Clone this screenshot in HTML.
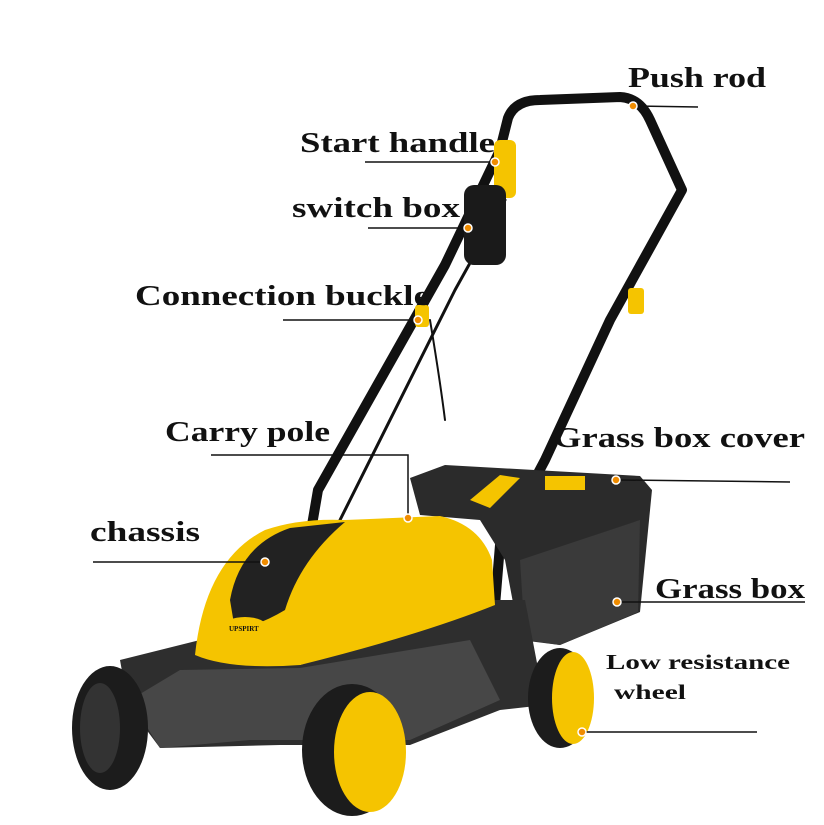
<!DOCTYPE html>
<html><head><meta charset="utf-8"><style>
html,body{margin:0;padding:0;background:#fff;}
svg{display:block;}
text{font-family:"Liberation Serif",serif;font-weight:bold;fill:#111;}
</style></head><body>
<svg width="824" height="825" viewBox="0 0 824 825" xmlns="http://www.w3.org/2000/svg">
<rect width="824" height="825" fill="#fff"/>
<!-- handle -->
<g fill="none" stroke="#111" stroke-linecap="round" stroke-linejoin="round">
<path d="M312,525 L318,490 L445,265 L500,150 L508,118 Q515,100 540,100 L620,97 Q640,98 650,120 L682,190 L610,320 L545,460 L500,545 L493,630" stroke-width="10"/>
<path d="M340,520 L455,290 L505,200" stroke-width="3"/>
<path d="M430,320 Q440,380 445,420" stroke-width="2"/>
</g>
<rect x="494" y="140" width="22" height="58" rx="6" fill="#f5c400"/>
<rect x="464" y="185" width="42" height="80" rx="10" fill="#1a1a1a"/>
<rect x="415" y="305" width="14" height="22" rx="3" fill="#f5c400"/>
<rect x="628" y="288" width="16" height="26" rx="3" fill="#f5c400"/>
<!-- grass box -->
<path d="M410,478 L445,465 L640,476 L652,490 L640,612 L560,645 L520,640 L505,560 L480,520 L420,515 Z" fill="#2b2b2b"/>
<path d="M520,560 L640,520 L638,612 L560,645 L525,640 Z" fill="#3a3a3a"/>
<rect x="545" y="476" width="40" height="14" fill="#f5c400"/>
<path d="M470,500 L500,475 L520,478 L490,508 Z" fill="#f5c400"/>
<!-- chassis -->
<path d="M120,660 L200,640 L300,665 L490,600 L525,600 L545,705 L500,710 L410,745 L280,745 L160,748 L128,705 Z" fill="#2e2e2e"/>
<path d="M130,700 L180,670 L300,668 L470,640 L500,700 L410,740 L250,740 L160,748 Z" fill="#474747"/>
<!-- yellow body -->
<path d="M195,655 Q205,560 265,530 Q300,518 345,520 L440,516 Q480,525 492,560 L495,605 Q420,635 300,665 Q230,670 195,655 Z" fill="#f5c400"/>
<path d="M230,600 Q240,545 290,528 L345,522 Q300,560 285,610 Q260,625 235,630 Z" fill="#222"/>
<ellipse cx="245" cy="627" rx="22" ry="10" fill="#f5c400"/>
<text x="229" y="631" font-size="7" fill="#222">UPSPIRT</text>
<!-- wheels -->
<ellipse cx="110" cy="728" rx="38" ry="62" fill="#1c1c1c"/>
<ellipse cx="100" cy="728" rx="20" ry="45" fill="#333"/>
<ellipse cx="352" cy="750" rx="50" ry="66" fill="#1c1c1c"/>
<ellipse cx="370" cy="752" rx="36" ry="60" fill="#f5c400"/>
<ellipse cx="560" cy="698" rx="32" ry="50" fill="#1c1c1c"/>
<ellipse cx="573" cy="698" rx="21" ry="46" fill="#f5c400"/>
<!-- label lines -->
<g stroke="#111" stroke-width="1.5" fill="none">
<line x1="633" y1="106" x2="698" y2="107"/>
<line x1="365" y1="162" x2="495" y2="162"/>
<line x1="368" y1="228" x2="468" y2="228"/>
<line x1="283" y1="320" x2="418" y2="320"/>
<polyline points="211,455 408,455 408,515"/>
<line x1="620" y1="480" x2="790" y2="482"/>
<line x1="93" y1="562" x2="265" y2="562"/>
<line x1="620" y1="602" x2="805" y2="602"/>
<line x1="580" y1="732" x2="757" y2="732"/>
</g>
<g fill="#f08c00" stroke="#fff" stroke-width="1.5">
<circle cx="633" cy="106" r="4"/><circle cx="495" cy="162" r="4"/><circle cx="468" cy="228" r="4"/>
<circle cx="418" cy="320" r="4"/><circle cx="408" cy="518" r="4"/><circle cx="616" cy="480" r="4"/>
<circle cx="265" cy="562" r="4"/><circle cx="617" cy="602" r="4"/><circle cx="582" cy="732" r="4"/>
</g>
<!-- labels -->
<g lengthAdjust="spacingAndGlyphs">
<text x="628" y="87" font-size="28" textLength="138" lengthAdjust="spacingAndGlyphs">Push rod</text>
<text x="300" y="152" font-size="28" textLength="195" lengthAdjust="spacingAndGlyphs">Start handle</text>
<text x="292" y="217" font-size="28" textLength="168" lengthAdjust="spacingAndGlyphs">switch box</text>
<text x="135" y="305" font-size="28" textLength="295" lengthAdjust="spacingAndGlyphs">Connection buckle</text>
<text x="165" y="441" font-size="28" textLength="165" lengthAdjust="spacingAndGlyphs">Carry pole</text>
<text x="553" y="447" font-size="28" textLength="252" lengthAdjust="spacingAndGlyphs">Grass box cover</text>
<text x="90" y="541" font-size="28" textLength="110" lengthAdjust="spacingAndGlyphs">chassis</text>
<text x="655" y="598" font-size="28" textLength="150" lengthAdjust="spacingAndGlyphs">Grass box</text>
<text x="606" y="669" font-size="21" textLength="184" lengthAdjust="spacingAndGlyphs">Low resistance</text>
<text x="614" y="699" font-size="21" textLength="72" lengthAdjust="spacingAndGlyphs">wheel</text>
</g>
</svg>
</body></html>
